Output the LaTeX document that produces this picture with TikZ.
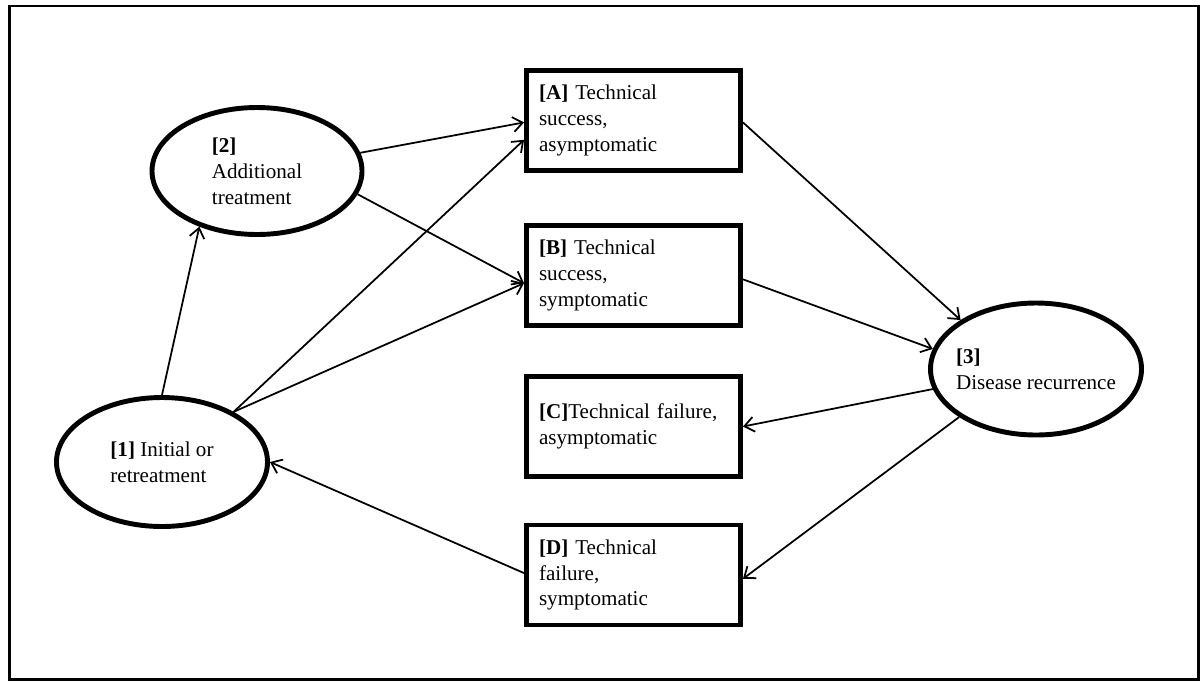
\documentclass[tikz,border=0pt]{standalone}
\usepackage{fontspec}
\setmainfont{Liberation Serif}
\usepackage{tikz}
\usetikzlibrary{positioning,shapes.geometric,arrows.meta}

\begin{document}
\begin{tikzpicture}[
                % Styles for the nodes
                statenode/.style={ellipse, draw=black, line width=2.8pt, inner sep=0pt, align=left, font=\fontsize{12}{14.7}\selectfont},
                outcomenode/.style={rectangle, draw=black, line width=2.8pt, minimum height=2cm, text width=3.78cm, inner xsep=0.25cm, align=left, font=\fontsize{12}{14.7}\selectfont},
                % Styles for the edges
                arrowedge/.style={-{Straight Barb[length=5.5pt,width=8.5pt]}, draw=black, line width=1pt},
                outerframe/.style={draw=black, line width=1.7pt}
            ]
                \useasboundingbox (0,0) rectangle (24,-13.62);
                \draw[outerframe] (0.19,-0.12) rectangle (23.97,-13.59);

                % --- STATES (ELLIPSES) ---
                \node[statenode, minimum width=4.22cm, minimum height=2.58cm] (n1) at (3.24, -9.24) {\textbf{[1]} Initial or\\retreatment};
                \node[statenode, minimum width=4.2cm, minimum height=2.54cm] (n2) at (5.14, -3.42) {\textbf{[2]}\\Additional\\treatment};
                \node[statenode, minimum width=4.22cm, minimum height=2.64cm, inner xsep=-0.11cm] (n3) at (20.72, -7.38) {\textbf{[3]}\\Disease recurrence};

                % --- OUTCOMES (BOXES) ---
                \node[outcomenode] (sA) at (12.67, -2.41) {\textbf{[A]} Technical\\success,\\asymptomatic};
                \node[outcomenode] (sB) at (12.67, -5.51) {\textbf{[B]} Technical\\success,\\symptomatic};
                \node[outcomenode] (sC) at (12.67, -8.53) {\textbf{[C]}Technical failure,\\asymptomatic};
                \node[outcomenode] (sD) at (12.67, -11.50) {\textbf{[D]} Technical\\failure,\\symptomatic};

                % --- EDGES ---
                \draw[arrowedge] (n1.90) -- (n2.-136);
                \draw[arrowedge] (n2.10) -- (sA.181);
                \draw[arrowedge] (n2.-13) -- (sB.184);
                \draw[arrowedge] (n1.35) -- (sA.190);
                \draw[arrowedge] (n1.35) -- (sB.184);

                \draw[arrowedge] (sA.-1) -- (n3.147);
                \draw[arrowedge] (sB.-2) -- (n3.169);
                \draw[arrowedge] (n3.191) -- (sC.east);
                \draw[arrowedge] (n3.212) -- (sD.-2);

                % Back to [1]
                \draw[arrowedge] (sD.179) -- (n1.east);

            \end{tikzpicture}
\end{document}
